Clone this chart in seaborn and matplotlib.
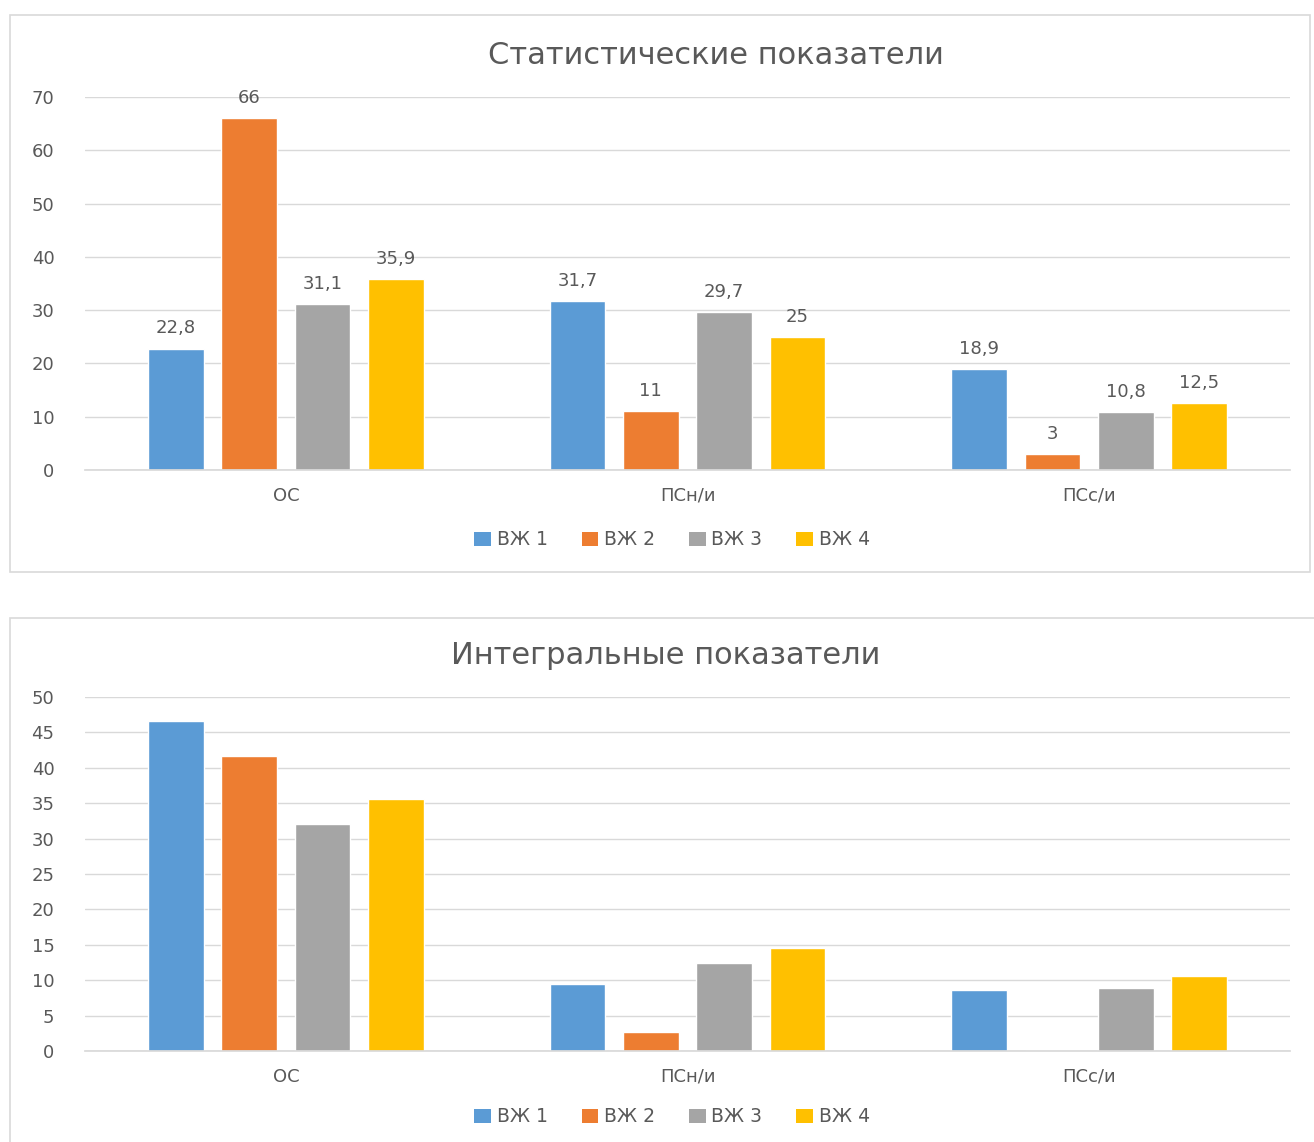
import matplotlib
matplotlib.use('Agg')
import matplotlib.pyplot as plt
from matplotlib.patches import Rectangle, Patch
import seaborn as sns
import pandas as pd

# данные
categories = ['ОС', 'ПСн/и', 'ПСс/и']
series = ['ВЖ 1', 'ВЖ 2', 'ВЖ 3', 'ВЖ 4']
stat_vals = {
    'ВЖ 1': [22.8, 31.7, 18.9],
    'ВЖ 2': [66, 11, 3],
    'ВЖ 3': [31.1, 29.7, 10.8],
    'ВЖ 4': [35.9, 25, 12.5],
}
integ_vals = {
    'ВЖ 1': [46.6, 9.4, 8.6],
    'ВЖ 2': [41.6, 2.7, 0],
    'ВЖ 3': [32.0, 12.5, 8.9],
    'ВЖ 4': [35.6, 14.6, 10.6],
}
colors = ['#5B9BD5', '#ED7D31', '#A5A5A5', '#FFC000']
txt = '#595959'
grid = '#D9D9D9'

sns.set_theme(style='white')
plt.rcParams['font.family'] = ['DejaVu Sans']

W, H = 1314, 1142
fig = plt.figure(figsize=(W / 100, H / 100), dpi=100)


def to_df(vals):
    rows = []
    for s in series:
        for c, v in zip(categories, vals[s]):
            rows.append({'cat': c, 'series': s, 'val': v})
    return pd.DataFrame(rows)


def px_axes(x0, x1, y_top, y_bot):
    return fig.add_axes([x0 / W, 1 - y_bot / H, (x1 - x0) / W, (y_bot - y_top) / H])


def draw(ax, vals, ymax, step, labels):
    df = to_df(vals)
    sns.barplot(data=df, x='cat', y='val', hue='series', palette=colors,
                width=0.73, gap=0.24, ax=ax, legend=False, saturation=1)
    ax.set_xlim(-0.5, 2.5)
    ax.set_ylim(0, ymax)
    ax.set_yticks(range(0, ymax + 1, step))
    ax.yaxis.grid(True, color=grid, linewidth=1)
    ax.set_axisbelow(True)
    for sp in ['top', 'left', 'right']:
        ax.spines[sp].set_visible(False)
    ax.spines['bottom'].set_color(grid)
    ax.tick_params(axis='both', length=0, labelsize=13, labelcolor=txt)
    ax.tick_params(axis='x', pad=12)
    ax.tick_params(axis='y', pad=22)
    ax.set_xlabel('')
    ax.set_ylabel('')
    if labels:
        for cont, s in zip(ax.containers, series):
            lab = [f'{v:g}'.replace('.', ',') for v in vals[s]]
            ax.bar_label(cont, labels=lab, padding=8, fontsize=13, color=txt)


# рамки панелей
fig.add_artist(Rectangle((10 / W, 1 - 572 / H), 1300 / W, 557 / H, transform=fig.transFigure,
                         fill=False, edgecolor=grid, linewidth=1.2))
fig.add_artist(Rectangle((10 / W, 1 - 1150 / H), 1310 / W, 532 / H, transform=fig.transFigure,
                         fill=False, edgecolor=grid, linewidth=1.2))

ax1 = px_axes(85, 1290, 97, 470)
draw(ax1, stat_vals, 70, 10, True)
ax2 = px_axes(85, 1290, 697, 1051)
draw(ax2, integ_vals, 50, 5, False)

fig.text(716 / W, 1 - 55 / H, 'Статистические показатели', ha='center', va='center',
         fontsize=22, color=txt)
fig.text(666 / W, 1 - 656 / H, 'Интегральные показатели', ha='center', va='center',
         fontsize=22, color=txt)

handles = [Patch(facecolor=c, edgecolor='none') for c in colors]
for y in (540, 1117):
    fig.legend(handles, series, loc='center', bbox_to_anchor=(672 / W, 1 - y / H),
               ncol=4, frameon=False, fontsize=13.5, labelcolor=txt,
               handlelength=0.9, handleheight=0.8, handletextpad=0.3, columnspacing=1.8)

fig.savefig('out.png', dpi=100, facecolor='white')
